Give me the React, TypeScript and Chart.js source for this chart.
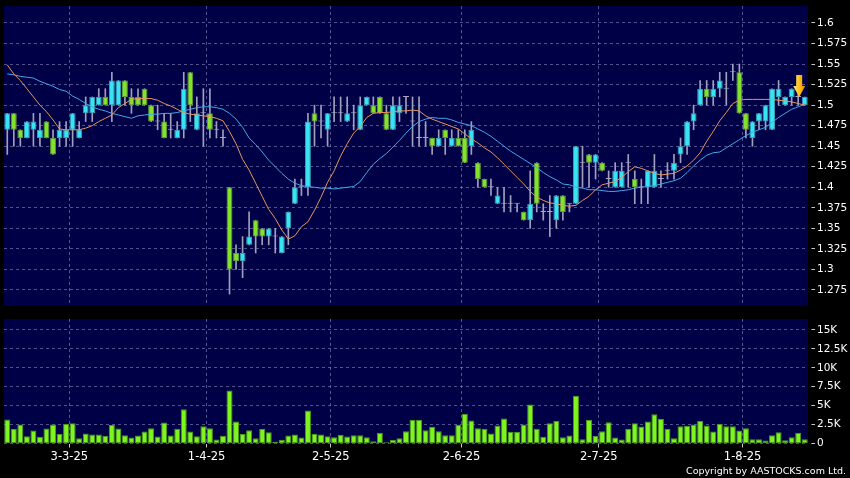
import React, { useEffect, useRef } from 'react';
import { Chart, registerables } from 'chart.js';

Chart.register(...registerables);

// ---------- data ----------
const opens = [
  1.47, 1.49, 1.47, 1.46, 1.47, 1.46, 1.48, 1.46, 1.46, 1.46,
  1.47, 1.46, 1.49, 1.49, 1.50, 1.51, 1.50, 1.50, 1.53, 1.51,
  1.51, 1.52, 1.50, 1.48, 1.48, 1.47, 1.46, 1.47, 1.54, 1.47,
  1.49, 1.49, 1.47, 1.46, 1.40, 1.32, 1.31, 1.33, 1.36, 1.35,
  1.34, 1.34, 1.32, 1.35, 1.38, 1.40, 1.40, 1.49, 1.48, 1.47,
  1.49, 1.49, 1.48, 1.49, 1.47, 1.50, 1.50, 1.51, 1.49, 1.47,
  1.49, 1.51, 1.48, 1.46, 1.46, 1.46, 1.45, 1.47, 1.45, 1.46,
  1.46, 1.45, 1.43, 1.41, 1.40, 1.38, 1.38, 1.38, 1.38, 1.37,
  1.36, 1.43, 1.37, 1.37, 1.36, 1.39, 1.38, 1.38, 1.43, 1.44,
  1.43, 1.43, 1.41, 1.40, 1.40, 1.43, 1.41, 1.40, 1.40, 1.40,
  1.41, 1.42, 1.42, 1.44, 1.45, 1.48, 1.50, 1.52, 1.51, 1.52,
  1.52, 1.54, 1.54, 1.49, 1.46, 1.48, 1.48, 1.47, 1.51, 1.50,
  1.51, 1.51, 1.50,
];
const highs = [
  1.49, 1.49, 1.47, 1.48, 1.49, 1.49, 1.48, 1.47, 1.48, 1.48,
  1.49, 1.48, 1.51, 1.51, 1.52, 1.52, 1.54, 1.53, 1.53, 1.52,
  1.52, 1.52, 1.50, 1.50, 1.49, 1.49, 1.48, 1.54, 1.54, 1.51,
  1.52, 1.52, 1.48, 1.47, 1.40, 1.33, 1.34, 1.37, 1.36, 1.35,
  1.35, 1.35, 1.34, 1.37, 1.41, 1.41, 1.49, 1.50, 1.50, 1.49,
  1.51, 1.51, 1.51, 1.50, 1.51, 1.51, 1.51, 1.51, 1.50, 1.51,
  1.51, 1.51, 1.51, 1.51, 1.48, 1.46, 1.47, 1.47, 1.47, 1.47,
  1.47, 1.48, 1.43, 1.41, 1.41, 1.40, 1.40, 1.39, 1.38, 1.37,
  1.42, 1.43, 1.38, 1.39, 1.39, 1.39, 1.38, 1.45, 1.45, 1.44,
  1.44, 1.43, 1.42, 1.43, 1.43, 1.44, 1.42, 1.41, 1.42, 1.44,
  1.42, 1.43, 1.44, 1.46, 1.48, 1.50, 1.53, 1.53, 1.53, 1.54,
  1.54, 1.55, 1.55, 1.49, 1.48, 1.49, 1.50, 1.52, 1.53, 1.51,
  1.52, 1.52, 1.51,
];
const lows = [
  1.44, 1.45, 1.45, 1.46, 1.45, 1.45, 1.46, 1.44, 1.45, 1.45,
  1.45, 1.46, 1.48, 1.48, 1.50, 1.50, 1.48, 1.50, 1.50, 1.49,
  1.50, 1.50, 1.48, 1.47, 1.46, 1.46, 1.46, 1.46, 1.48, 1.47,
  1.45, 1.46, 1.46, 1.45, 1.27, 1.30, 1.29, 1.33, 1.32, 1.33,
  1.33, 1.32, 1.32, 1.33, 1.38, 1.39, 1.39, 1.45, 1.46, 1.45,
  1.48, 1.48, 1.48, 1.47, 1.47, 1.50, 1.49, 1.49, 1.47, 1.47,
  1.48, 1.49, 1.45, 1.45, 1.45, 1.44, 1.45, 1.44, 1.45, 1.45,
  1.43, 1.44, 1.40, 1.40, 1.39, 1.38, 1.37, 1.37, 1.37, 1.36,
  1.35, 1.37, 1.36, 1.34, 1.35, 1.36, 1.37, 1.38, 1.40, 1.40,
  1.41, 1.42, 1.40, 1.40, 1.40, 1.40, 1.38, 1.38, 1.38, 1.40,
  1.40, 1.41, 1.41, 1.43, 1.44, 1.47, 1.50, 1.50, 1.50, 1.51,
  1.50, 1.53, 1.49, 1.46, 1.45, 1.47, 1.47, 1.47, 1.50, 1.50,
  1.50, 1.50, 1.50,
];
const closes = [
  1.49, 1.47, 1.46, 1.48, 1.48, 1.47, 1.46, 1.44, 1.47, 1.47,
  1.49, 1.47, 1.50, 1.51, 1.51, 1.50, 1.53, 1.53, 1.51, 1.50,
  1.50, 1.50, 1.48, 1.48, 1.46, 1.47, 1.47, 1.52, 1.50, 1.49,
  1.49, 1.47, 1.47, 1.46, 1.30, 1.31, 1.32, 1.34, 1.34, 1.34,
  1.35, 1.34, 1.34, 1.37, 1.40, 1.40, 1.48, 1.48, 1.48, 1.49,
  1.49, 1.49, 1.49, 1.49, 1.50, 1.51, 1.49, 1.49, 1.47, 1.50,
  1.50, 1.51, 1.48, 1.46, 1.46, 1.45, 1.46, 1.46, 1.46, 1.45,
  1.43, 1.47, 1.41, 1.40, 1.40, 1.39, 1.38, 1.38, 1.38, 1.36,
  1.38, 1.38, 1.37, 1.37, 1.39, 1.37, 1.38, 1.45, 1.43, 1.43,
  1.44, 1.42, 1.41, 1.42, 1.42, 1.43, 1.40, 1.40, 1.42, 1.42,
  1.41, 1.42, 1.43, 1.45, 1.48, 1.49, 1.52, 1.51, 1.52, 1.53,
  1.52, 1.54, 1.49, 1.47, 1.48, 1.49, 1.50, 1.52, 1.52, 1.51,
  1.52, 1.51, 1.51,
];
// orange moving average
const ma10 = [
  1.549, 1.538, 1.530, 1.520, 1.510, 1.500, 1.492, 1.482, 1.471, 1.470,
  1.470, 1.470, 1.472, 1.475, 1.480, 1.484, 1.488, 1.497, 1.502, 1.507,
  1.508, 1.508, 1.508, 1.506, 1.502, 1.499, 1.495, 1.491, 1.489, 1.488,
  1.487, 1.486, 1.484, 1.481, 1.468, 1.453, 1.434, 1.421, 1.405, 1.389,
  1.373, 1.362, 1.348, 1.337, 1.341, 1.352, 1.358, 1.372, 1.388, 1.406,
  1.420, 1.438, 1.453, 1.466, 1.474, 1.485, 1.490, 1.491, 1.491, 1.492,
  1.493, 1.493, 1.494, 1.493, 1.487, 1.483, 1.480, 1.477, 1.474, 1.471,
  1.465, 1.459, 1.454, 1.448, 1.443, 1.436, 1.428, 1.420, 1.412, 1.404,
  1.395, 1.388, 1.384, 1.381, 1.380, 1.378, 1.377, 1.378, 1.384, 1.389,
  1.397, 1.403, 1.405, 1.407, 1.412, 1.419, 1.425, 1.423, 1.420, 1.417,
  1.415, 1.416, 1.417, 1.421, 1.426, 1.433, 1.442, 1.456, 1.468, 1.481,
  1.491, 1.502, 1.506, 1.507, 1.507, 1.507, 1.507, 1.507, 1.506, 1.505,
  1.504, 1.502, 1.500,
];
// blue moving average
const ma20 = [
  1.538, 1.537, 1.535, 1.534, 1.533, 1.529, 1.526, 1.523, 1.519, 1.517,
  1.511, 1.507, 1.502, 1.498, 1.495, 1.493, 1.490, 1.488, 1.486, 1.484,
  1.487, 1.488, 1.489, 1.489, 1.490, 1.490, 1.491, 1.493, 1.495, 1.497,
  1.498, 1.498, 1.497, 1.495, 1.490, 1.483, 1.473, 1.460, 1.452, 1.443,
  1.433, 1.425, 1.417, 1.410, 1.405, 1.402, 1.401, 1.400, 1.399, 1.399,
  1.398, 1.399, 1.400, 1.401, 1.407, 1.418, 1.428, 1.435, 1.441, 1.449,
  1.457, 1.466, 1.474, 1.480, 1.483, 1.485, 1.484, 1.484, 1.482, 1.479,
  1.477, 1.475, 1.471, 1.467, 1.462, 1.456, 1.450, 1.444, 1.439, 1.434,
  1.429, 1.424, 1.418, 1.413, 1.409, 1.404, 1.403, 1.400, 1.399, 1.397,
  1.397, 1.396, 1.395, 1.395, 1.396, 1.397, 1.399, 1.400, 1.401, 1.402,
  1.404, 1.406, 1.408, 1.411, 1.418, 1.426, 1.433, 1.439, 1.442, 1.443,
  1.448, 1.453, 1.458, 1.463, 1.467, 1.470, 1.473, 1.479, 1.485, 1.490,
  1.495, 1.498, 1.501,
];
const volumes = [
  3180, 1900, 2500, 970, 1720, 880, 1990, 2510, 1240, 2560,
  2690, 710, 1320, 1190, 1190, 1010, 2430, 1990, 1100, 790,
  1060, 1590, 2030, 930, 2780, 1060, 1940, 4540, 1590, 970,
  2290, 2030, 530, 1010, 7010, 2910, 1240, 1760, 710, 1900,
  1500, 220, 490, 1060, 1190, 790, 4370, 1280, 1190, 970,
  840, 1150, 930, 1100, 1100, 840, 310, 1410, 180, 490,
  710, 1630, 3090, 3090, 1760, 2210, 1630, 1100, 1100, 2470,
  3930, 3040, 2030, 1940, 1320, 2380, 3310, 1540, 1540, 2510,
  5160, 1940, 880, 2690, 2960, 840, 1060, 6310, 570, 3130,
  1010, 1630, 2820, 790, 530, 1940, 2690, 2250, 2910, 3880,
  3260, 1900, 710, 2290, 2340, 2510, 2960, 2380, 1590, 2560,
  2290, 2290, 1720, 2030, 570, 570, 400, 1100, 1500, 440,
  840, 1410, 570,
];
const priceTicks = [1.275, 1.3, 1.325, 1.35, 1.375, 1.4, 1.425, 1.45, 1.475, 1.5, 1.525, 1.55, 1.575, 1.6];
const volumeTicks = [0, 2500, 5000, 7500, 10000, 12500, 15000];
const volumeTickLabels = ['0', '2.5K', '5K', '7.5K', '10K', '12.5K', '15K'];
const dateTickIndex = [10, 31, 50, 70, 91, 113];
const dateTickLabels = ['3-3-25', '1-4-25', '2-5-25', '2-6-25', '2-7-25', '1-8-25'];
const arrowIndex = 121;

// ---------- styling ----------
const N = closes.length;
const idx = closes.map((_, i) => i);
const FONT = 'DejaVu Sans';
const PLOT_BG = '#000046';
const GRID = 'rgba(150,150,205,0.55)';
const TICK_MARK = '#c8c8c8';
const LABEL = '#ffffff';
const UP_FILL = '#38e4f4';
const UP_BORDER = '#3a9fb2';
const DOWN_FILL = '#84e22c';
const DOWN_BORDER = '#5e9e36';
const DOJI = '#a8a8c4';
const WICK = '#a0a0bc';
const MA10_COLOR = '#e8955c';
const MA20_COLOR = '#42a8ea';
const VOL_FILL = '#7ef51e';
const VOL_BORDER = '#4e9a18';

const plotBg = {
  id: 'plotBg',
  beforeDraw(chart: any) {
    const { ctx, chartArea: a } = chart;
    ctx.save();
    ctx.fillStyle = PLOT_BG;
    ctx.fillRect(a.left, a.top, a.right - a.left, a.bottom - a.top);
    ctx.restore();
  },
};

const arrowPlugin = {
  id: 'signalArrow',
  afterDatasetsDraw(chart: any) {
    const { ctx, scales } = chart;
    const cx = scales.x.getPixelForValue(arrowIndex) + 1;
    const tip = scales.y.getPixelForValue(closes[arrowIndex]);
    const headH = 11, headW = 6, shaftW = 3, shaftH = 11;
    ctx.save();
    const g = ctx.createLinearGradient(cx - headW, 0, cx + headW, 0);
    g.addColorStop(0, '#ffe680');
    g.addColorStop(0.5, '#ffc21a');
    g.addColorStop(1, '#e08a00');
    ctx.fillStyle = g;
    ctx.beginPath();
    ctx.moveTo(cx - shaftW, tip - headH - shaftH);
    ctx.lineTo(cx + shaftW, tip - headH - shaftH);
    ctx.lineTo(cx + shaftW, tip - headH);
    ctx.lineTo(cx + headW, tip - headH);
    ctx.lineTo(cx, tip);
    ctx.lineTo(cx - headW, tip - headH);
    ctx.lineTo(cx - shaftW, tip - headH);
    ctx.closePath();
    ctx.fill();
    ctx.restore();
  },
};

const candleColor = (i: number, up: string, down: string) =>
  closes[i] > opens[i] ? up : closes[i] < opens[i] ? down : DOJI;

function xAxis(showLabels: boolean): any {
  return {
    type: 'linear',
    min: -0.5,
    max: N - 0.5,
    bounds: 'data',
    offset: false,
    afterBuildTicks: (s: any) => {
      s.ticks = dateTickIndex.map((i) => ({ value: i - 0.5 }));
    },
    ticks: {
      display: showLabels,
      autoSkip: false,
      maxRotation: 0,
      color: LABEL,
      padding: 3,
      font: { family: FONT, size: 11.5 },
      callback: (_v: any, i: number) => dateTickLabels[i],
    },
    grid: {
      offset: false,
      color: GRID,
      drawTicks: showLabels,
      tickLength: 4,
      tickColor: TICK_MARK,
    },
    border: { display: false, dash: [3, 3] },
    afterFit: (s: any) => {
      s.height = showLabels ? 34.5 : 0;
      s.paddingLeft = 0;
      s.paddingRight = 0;
    },
  };
}

function yAxis(min: number, max: number, ticks: number[], label: (v: number, i: number) => string): any {
  return {
    type: 'linear',
    position: 'right',
    min,
    max,
    bounds: 'data',
    afterBuildTicks: (s: any) => {
      s.ticks = ticks.map((v) => ({ value: v }));
    },
    ticks: {
      color: LABEL,
      padding: 2,
      font: { family: FONT, size: 10.5 },
      callback: (v: any, i: number) => label(v, i),
    },
    grid: {
      color: GRID,
      tickLength: 7,
      tickColor: TICK_MARK,
      tickBorderDash: [0, 3.5, 3.5, 20],
    },
    border: { display: false, dash: [3, 3] },
    afterFit: (s: any) => {
      s.width = 42;
      s.paddingTop = 0;
      s.paddingBottom = 0;
    },
  };
}

export default function App() {
  const priceRef = useRef<HTMLCanvasElement>(null);
  const volRef = useRef<HTMLCanvasElement>(null);

  useEffect(() => {
    const priceChart = new Chart(priceRef.current as HTMLCanvasElement, {
      type: 'bar',
      data: {
        datasets: [
          {
            type: 'line',
            label: 'MA10',
            data: idx.map((i) => ({ x: i, y: ma10[i] })),
            borderColor: MA10_COLOR,
            borderWidth: 1,
            pointRadius: 0,
            tension: 0,
            order: 0,
          } as any,
          {
            type: 'line',
            label: 'MA20',
            data: idx.map((i) => ({ x: i, y: ma20[i] })),
            borderColor: MA20_COLOR,
            borderWidth: 1,
            pointRadius: 0,
            tension: 0,
            order: 0,
          } as any,
          {
            type: 'bar',
            label: 'body',
            data: idx.map((i) => ({ x: i, y: [opens[i], closes[i]] })),
            backgroundColor: (c: any) => candleColor(c.dataIndex, UP_FILL, DOWN_FILL),
            borderColor: (c: any) => candleColor(c.dataIndex, UP_BORDER, DOWN_BORDER),
            borderWidth: 1,
            borderSkipped: false,
            barPercentage: 0.9,
            categoryPercentage: 1,
            grouped: false,
            minBarLength: 1,
            order: 1,
          } as any,
          {
            type: 'bar',
            label: 'wick',
            data: idx.map((i) => ({ x: i, y: [lows[i], highs[i]] })),
            backgroundColor: WICK,
            borderWidth: 0,
            barThickness: 1,
            grouped: false,
            order: 2,
          } as any,
        ],
      },
      options: {
        responsive: false,
        animation: false,
        devicePixelRatio: 1,
        layout: { padding: { left: 4, top: 6, right: 0, bottom: 4 } },
        plugins: { legend: { display: false }, tooltip: { enabled: false } },
        scales: {
          x: xAxis(false),
          y: yAxis(1.25551, 1.62069, priceTicks, (v) => String(v)),
        },
      } as any,
      plugins: [plotBg, arrowPlugin],
    });

    const volChart = new Chart(volRef.current as HTMLCanvasElement, {
      type: 'bar',
      data: {
        datasets: [
          {
            label: 'volume',
            data: idx.map((i) => ({ x: i, y: volumes[i] })),
            backgroundColor: VOL_FILL,
            borderColor: VOL_BORDER,
            borderWidth: 1,
            borderSkipped: false,
            barPercentage: 0.92,
            categoryPercentage: 1,
            grouped: false,
          } as any,
        ],
      },
      options: {
        responsive: false,
        animation: false,
        devicePixelRatio: 1,
        layout: { padding: { left: 4, top: 9, right: 0, bottom: 0 } },
        plugins: { legend: { display: false }, tooltip: { enabled: false } },
        scales: {
          x: xAxis(true),
          y: yAxis(0, 16450, volumeTicks, (_v, i) => volumeTickLabels[i]),
        },
      } as any,
      plugins: [plotBg],
    });

    return () => {
      priceChart.destroy();
      volChart.destroy();
    };
  }, []);

  return (
    <div
      style={{
        position: 'fixed',
        left: 0,
        top: 0,
        width: 850,
        height: 478,
        background: '#000',
        overflow: 'hidden',
      }}
    >
      <canvas
        ref={priceRef}
        width={850}
        height={310}
        style={{ position: 'absolute', left: 0, top: 0, width: 850, height: 310 }}
      />
      <canvas
        ref={volRef}
        width={850}
        height={168}
        style={{ position: 'absolute', left: 0, top: 310, width: 850, height: 168 }}
      />
      <div
        style={{
          position: 'absolute',
          right: 4,
          top: 466,
          fontFamily: FONT,
          fontSize: 9.5,
          lineHeight: 1,
          color: '#ffffff',
          whiteSpace: 'nowrap',
        }}
      >
        Copyright by AASTOCKS.com Ltd.
      </div>
    </div>
  );
}
